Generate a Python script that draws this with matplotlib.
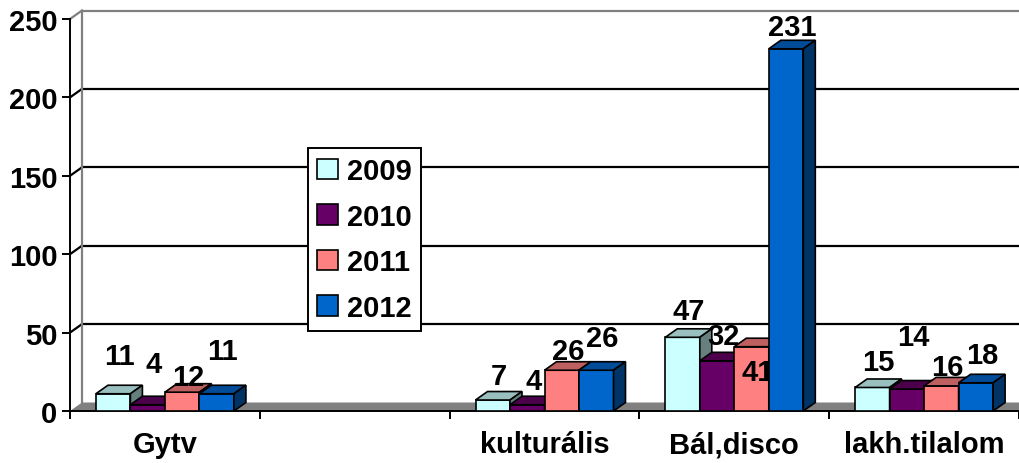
import matplotlib.pyplot as plt
from matplotlib.patches import Polygon, Patch

plt.rcParams['font.family'] = ['Liberation Sans', 'DejaVu Sans']
plt.rcParams['font.weight'] = 'bold'

categories = ['Gytv', '', 'kulturális', 'Bál,disco', 'lakh.tilalom']
years = ['2009', '2010', '2011', '2012']
v2009 = [11, None, 7, 47, 15]
v2010 = [4, None, 4, 32, 14]
v2011 = [12, None, 26, 41, 16]
v2012 = [11, None, 26, 231, 18]
series = [v2009, v2010, v2011, v2012]

front = ['#CCFFFF', '#660066', '#FF8080', '#0066CC']
top = ['#99BFBF', '#4C004C', '#BF6060', '#004C99']
side = ['#668080', '#330033', '#804040', '#003366']

# extra vertical shift of each data label (pixels), as excel placed them
nudge = [[14, 0, 0, 2, 1],
         [17, 0, 0, 1, 28],
         [-9, 0, -5, -49, -5],
         [19, 0, 8, -2, 4]]

W, H = 1019, 464
fig = plt.figure(figsize=(W / 100, H / 100), dpi=100)
ax = fig.add_axes([70 / W, 52 / H, 949 / W, 392 / H])
ax.set_xlim(0, 5)
ax.set_ylim(0, 250)

px_x = 5 / 949
px_y = 250 / 392
dx = 12 * px_x
dy = 8.5 * px_y
bw = 34.5 * px_x

# walls and floor
for v in range(50, 251, 50):
    col = '#808080' if v == 250 else 'black'
    lw = 1.6
    ax.plot([dx, 5 + dx], [v + dy, v + dy], color=col, lw=lw, clip_on=False, zorder=1)
    ax.plot([0, dx], [v, v + dy], color=col, lw=lw, clip_on=False, zorder=1)
ax.plot([dx, dx], [dy, 250 + dy], color='#808080', lw=1.6, clip_on=False, zorder=1)
ax.add_patch(Polygon([(0, 0), (dx, dy), (5 + dx, dy), (5 + dx, 0)], closed=True,
                     facecolor='#808080', edgecolor='none', clip_on=False, zorder=1.5))

z = 3
for c in range(len(categories)):
    for k, vals in enumerate(series):
        v = vals[c]
        if v is None:
            continue
        x0 = c + 0.5 + (k - 2) * bw
        x1 = x0 + bw
        ax.bar(x0, v, width=bw, align='edge', color=front[k], edgecolor='black',
               lw=1.2, zorder=z)
        ax.add_patch(Polygon([(x0, v), (x0 + dx, v + dy), (x1 + dx, v + dy), (x1, v)],
                             closed=True, facecolor=top[k], edgecolor='black', lw=1.2,
                             zorder=z))
        ax.add_patch(Polygon([(x1, 0), (x1, v), (x1 + dx, v + dy), (x1 + dx, dy)],
                             closed=True, facecolor=side[k], edgecolor='black', lw=1.2,
                             zorder=z))
        ax.annotate(str(v), xy=(x0 + bw / 2 + dx / 2, v),
                    xytext=(0, (24 + nudge[k][c]) * 0.72), textcoords='offset points',
                    ha='center', va='center', fontsize=21, fontweight='bold',
                    zorder=z + 0.5)
        z += 1

for s in ['top', 'right']:
    ax.spines[s].set_visible(False)
for s in ['left', 'bottom']:
    ax.spines[s].set_linewidth(1.4)
    ax.spines[s].set_zorder(2)

ax.set_yticks(range(0, 251, 50))
ax.tick_params(axis='y', direction='out', length=6, width=1.4, labelsize=21, pad=3)
ax.set_xticks(range(0, 6))
ax.set_xticklabels([])
ax.tick_params(axis='x', which='major', direction='out', length=6, width=1.4)
ax.set_xticks([c + 0.5 for c in range(len(categories))], minor=True)
ax.set_xticklabels(categories, minor=True)
ax.tick_params(axis='x', which='minor', length=0, labelsize=21, pad=14)
for t in ax.get_xticklabels(minor=True) + ax.get_yticklabels():
    t.set_fontweight('bold')

handles = [Patch(facecolor=front[k], edgecolor='black', lw=1.2) for k in range(4)]
leg = fig.legend(handles, years, loc='upper left', bbox_to_anchor=(308 / W, 1 - 149 / H),
                 frameon=True, fancybox=False, edgecolor='black', framealpha=1,
                 fontsize=21, handlelength=0.7, handleheight=0.7, handletextpad=0.3,
                 labelspacing=0.6, borderpad=0.32, borderaxespad=0)
leg.get_frame().set_linewidth(1.4)
for t in leg.get_texts():
    t.set_fontweight('bold')

fig.savefig('out.png', dpi=100)
